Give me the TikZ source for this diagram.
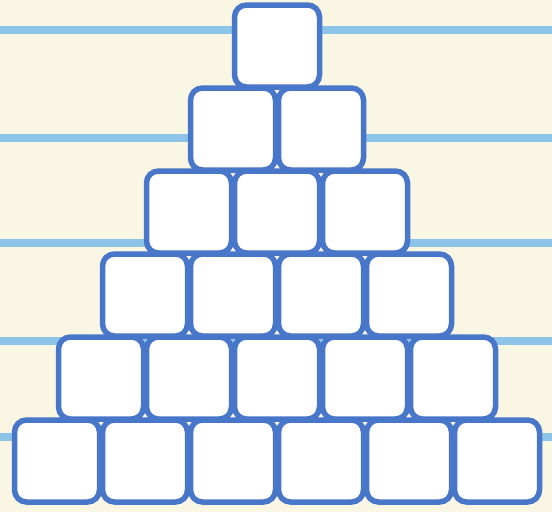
\documentclass[tikz,border=0pt]{standalone}
\usepackage{tikz}
\usetikzlibrary{calc,positioning}
\definecolor{paper}{RGB}{249,247,228}
\definecolor{ruleblue}{RGB}{142,196,232}
\definecolor{boxblue}{RGB}{72,118,200}
\tikzset{
  cube/.style={draw=boxblue, line width=5.5pt, fill=white, rounded corners=12pt,
    minimum width=85pt, minimum height=82pt, inner sep=0pt}
}
\begin{document}
\begin{tikzpicture}[x=1pt,y=-1pt]
        \fill[paper] (0,0) rectangle (552,512);
        \useasboundingbox (0,0) rectangle (552,512);
        % ruled lines
        \foreach \ly in {30,138,243,341,437}
          \draw[ruleblue, line width=8pt] (0,\ly) -- (552,\ly);
        % pyramid of boxes
        \foreach \r in {1,...,6}
          \foreach \c in {1,...,\r}
            \node[cube] (b\r\c) at ({277+(\c-(\r+1)/2)*88}, {46+(\r-1)*83}) {};
      \end{tikzpicture}
\end{document}
